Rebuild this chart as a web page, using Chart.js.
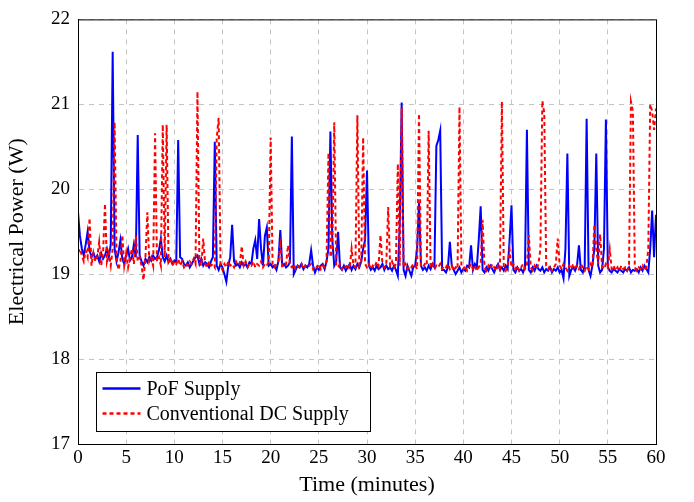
<!DOCTYPE html>
<html>
<head>
<meta charset="utf-8">
<script src="https://cdn.jsdelivr.net/npm/chart.js@4/dist/chart.umd.min.js"></script>
<style>
  html, body { margin: 0; padding: 0; background: #fff; }
  #wrap { width: 694px; height: 502px; }
</style>
</head>
<body>
<div id="wrap"><canvas id="c" width="694" height="502"></canvas></div>
<script>
// sample spacing of both records (minutes)
const STEP = 0.2;

// PoF supply, one value every 0.2 min from 0 to 60
const pofPower = [
  19.73, 19.45, 19.30, 19.22, 19.35, 19.50, 19.28, 19.20, 19.25, 19.18,
  19.22, 19.15, 19.25, 19.18, 19.22, 19.30, 19.20, 19.35, 21.62, 19.30,
  19.15, 19.25, 19.40, 19.18, 19.12, 19.22, 19.30, 19.16, 19.20, 19.35,
  19.20, 20.64, 19.22, 19.15, 19.10, 19.18, 19.14, 19.20, 19.16, 19.22,
  19.18, 19.20, 19.28, 19.42, 19.20, 19.15, 19.22, 19.14, 19.18, 19.12,
  19.16, 19.14, 20.58, 19.20, 19.18, 19.12, 19.10, 19.14, 19.08, 19.12,
  19.16, 19.20, 19.22, 19.12, 19.18, 19.10, 19.14, 19.12, 19.08, 19.15,
  19.20, 20.56, 19.10, 19.05, 19.12, 19.08, 19.00, 18.91, 19.10, 19.20,
  19.58, 19.15, 19.10, 19.12, 19.08, 19.14, 19.10, 19.12, 19.08, 19.14,
  19.12, 19.30, 19.40, 19.18, 19.65, 19.30, 19.10, 19.45, 19.55, 19.10,
  19.12, 19.08, 19.10, 19.05, 19.15, 19.52, 19.10, 19.12, 19.08, 19.10,
  19.14, 20.62, 19.00, 19.05, 19.10, 19.08, 19.12, 19.06, 19.10, 19.08,
  19.12, 19.28, 19.10, 19.02, 19.08, 19.05, 19.10, 19.12, 19.06, 19.15,
  19.30, 20.68, 19.40, 19.10, 19.15, 19.50, 19.08, 19.05, 19.10, 19.04,
  19.08, 19.12, 19.05, 19.10, 19.06, 19.12, 19.08, 19.15, 19.30, 19.40,
  20.22, 19.10, 19.05, 19.08, 19.04, 19.10, 19.06, 19.08, 19.12, 19.05,
  19.10, 19.06, 19.08, 19.04, 19.10, 19.05, 18.98, 19.60, 21.02, 19.05,
  18.98, 19.10, 19.04, 18.98, 19.08, 19.10, 19.30, 19.85, 19.10, 19.05,
  19.08, 19.04, 19.10, 19.06, 19.12, 19.08, 20.51, 20.58, 20.69, 19.05,
  19.05, 19.02, 19.08, 19.38, 19.10, 19.05, 19.00, 19.04, 19.08, 19.02,
  19.06, 19.04, 19.10, 19.08, 19.34, 19.05, 19.12, 19.08, 19.40, 19.80,
  19.05, 19.02, 19.08, 19.04, 19.10, 19.06, 19.02, 19.08, 19.12, 19.05,
  19.08, 19.04, 19.10, 19.06, 19.40, 19.81, 19.05, 19.02, 19.08, 19.04,
  19.06, 19.02, 19.08, 20.70, 19.05, 19.02, 19.08, 19.04, 19.10, 19.06,
  19.04, 19.08, 19.02, 19.06, 19.04, 19.08, 19.02, 19.06, 19.04, 19.08,
  19.02, 19.05, 18.95, 19.30, 20.42, 18.98, 19.05, 19.08, 19.04, 19.10,
  19.34, 19.05, 19.02, 19.10, 20.83, 19.05, 18.98, 19.10, 19.30, 20.42,
  19.10, 19.02, 19.05, 19.30, 20.82, 19.08, 19.04, 19.02, 19.06, 19.04,
  19.02, 19.06, 19.04, 19.02, 19.06, 19.04, 19.08, 19.02, 19.05, 19.04,
  19.06, 19.02, 19.08, 19.04, 19.10, 19.06, 19.02, 19.30, 19.75, 19.20,
  19.70
];

// conventional DC supply, same time base
const dcPower = [
  19.25, 19.30, 19.22, 19.15, 19.28, 19.20, 19.66, 19.10, 19.25, 19.15,
  19.20, 19.38, 19.10, 19.25, 19.83, 19.15, 19.25, 19.10, 19.30, 20.79,
  19.20, 19.05, 19.15, 19.46, 19.10, 19.25, 19.08, 19.20, 19.30, 19.12,
  19.45, 19.15, 19.20, 19.10, 18.93, 19.20, 19.73, 19.15, 19.20, 19.10,
  20.66, 19.15, 19.20, 19.10, 20.76, 19.20, 20.76, 19.15, 19.20, 19.10,
  19.15, 19.12, 19.18, 19.10, 19.15, 19.08, 19.12, 19.10, 19.15, 19.12,
  19.18, 19.12, 21.15, 19.15, 19.10, 19.42, 19.12, 19.08, 19.15, 19.10,
  19.12, 19.08, 20.60, 20.84, 19.10, 19.05, 19.12, 19.08, 19.15, 19.10,
  19.12, 19.08, 19.15, 19.10, 19.12, 19.33, 19.10, 19.15, 19.08, 19.12,
  19.10, 19.15, 19.08, 19.12, 19.10, 19.15, 19.08, 19.12, 19.10, 19.15,
  20.61, 19.10, 19.08, 19.12, 19.15, 19.34, 19.10, 19.08, 19.12, 19.34,
  19.10, 19.08, 19.12, 19.06, 19.10, 19.08, 19.12, 19.06, 19.10, 19.08,
  19.10, 19.12, 19.06, 19.10, 19.08, 19.12, 19.06, 19.10, 19.08, 19.15,
  20.43, 19.20, 19.30, 20.79, 19.10, 19.08, 19.12, 19.06, 19.10, 19.08,
  19.12, 19.06, 19.30, 19.10, 19.08, 20.87, 19.10, 19.15, 20.61, 19.12,
  19.08, 19.12, 19.06, 19.10, 19.08, 19.15, 19.10, 19.46, 19.12, 19.08,
  19.12, 19.79, 19.10, 19.15, 19.08, 19.12, 20.30, 19.10, 20.96, 19.08,
  19.12, 19.06, 19.10, 19.08, 19.12, 19.10, 19.06, 20.89, 19.10, 19.08,
  19.12, 19.10, 20.69, 19.08, 19.12, 19.06, 19.10, 19.08, 19.12, 19.06,
  19.10, 19.08, 19.12, 19.06, 19.10, 19.04, 19.08, 19.06, 20.97, 19.10,
  19.06, 19.10, 19.04, 19.08, 19.12, 19.06, 19.10, 19.04, 19.08, 19.12,
  19.64, 19.08, 19.04, 19.10, 19.06, 19.12, 19.08, 19.04, 19.10, 19.06,
  21.03, 19.08, 19.04, 19.10, 19.29, 19.08, 19.12, 19.06, 19.10, 19.04,
  19.08, 19.12, 19.06, 19.10, 19.46, 19.08, 19.04, 19.10, 19.06, 19.12,
  19.30, 21.04, 20.90, 19.10, 19.06, 19.10, 19.04, 19.08, 19.12, 19.42,
  19.10, 19.06, 19.12, 19.08, 19.04, 19.10, 19.06, 19.12, 19.08, 19.10,
  19.06, 19.12, 19.08, 19.04, 19.10, 19.06, 19.12, 19.08, 19.58, 19.30,
  19.12, 19.47, 19.10, 19.06, 19.12, 19.08, 19.29, 19.06, 19.10, 19.04,
  19.08, 19.04, 19.10, 19.06, 19.08, 19.04, 19.10, 21.03, 20.92, 19.08,
  19.04, 19.08, 19.06, 19.10, 19.04, 19.08, 19.30, 21.00, 20.92, 20.70,
  20.95
];

const seriesLabels = ['PoF Supply', 'Conventional DC Supply'];
const xTicks = [0, 5, 10, 15, 20, 25, 30, 35, 40, 45, 50, 55, 60];
const yTicks = [17, 18, 19, 20, 21, 22];

const FONT = "'Liberation Serif', 'DejaVu Serif', serif";

const toPoints = arr => arr.map((v, i) => ({ x: +(i * STEP).toFixed(1), y: v }));

// black frame round the plot + boxed legend inside it
const framePlugin = {
  id: 'frame',
  afterDraw(chart) {
    const { ctx, chartArea: a } = chart;
    ctx.save();
    ctx.strokeStyle = '#000';
    ctx.lineWidth = 1;
    ctx.setLineDash([]);
    ctx.strokeRect(a.left + 0.5, a.top + 0.5, a.right - a.left, a.bottom - a.top);

    // legend
    const bx = 96.5, by = 372.5, bw = 274, bh = 59;
    ctx.fillStyle = '#fff';
    ctx.fillRect(bx, by, bw, bh);
    ctx.strokeRect(bx, by, bw, bh);
    ctx.font = '20px ' + FONT;
    ctx.textBaseline = 'middle';
    chart.data.datasets.forEach((ds, i) => {
      const cy = by + 16 + i * 25;
      ctx.strokeStyle = ds.borderColor;
      ctx.lineWidth = 2.5;
      ctx.setLineDash(ds.borderDash || []);
      ctx.beginPath();
      ctx.moveTo(bx + 6, cy);
      ctx.lineTo(bx + 44, cy);
      ctx.stroke();
      ctx.setLineDash([]);
      ctx.fillStyle = '#000';
      ctx.fillText(ds.label, bx + 50, cy + 1);
    });
    ctx.restore();
  }
};

new Chart(document.getElementById('c'), {
  type: 'line',
  data: {
    datasets: [
      {
        label: seriesLabels[0],
        data: toPoints(pofPower),
        borderColor: '#0000ff',
        borderWidth: 2,
        pointRadius: 0,
        tension: 0,
        order: 1
      },
      {
        label: seriesLabels[1],
        data: toPoints(dcPower),
        borderColor: '#ff0000',
        borderWidth: 2,
        borderDash: [4, 3],
        pointRadius: 0,
        tension: 0,
        order: 0
      }
    ]
  },
  options: {
    responsive: false,
    animation: false,
    layout: { padding: { top: 16, right: 38, left: 0, bottom: 0 } },
    plugins: { legend: { display: false }, tooltip: { enabled: false } },
    scales: {
      x: {
        type: 'linear',
        min: 0,
        max: 60,
        afterBuildTicks: s => { s.ticks = xTicks.map(v => ({ value: v })); },
        afterFit: s => { s.height = 58; },
        ticks: { color: '#000', font: { family: FONT, size: 19 }, padding: 3, maxRotation: 0 },
        grid: { color: '#c4c4c4', lineWidth: 1, drawTicks: false },
        border: { display: true, color: '#000', dash: [5, 5] },
        title: { display: true, text: 'Time (minutes)', color: '#000', font: { family: FONT, size: 22 }, padding: { top: 0 } }
      },
      y: {
        min: 17,
        max: 22,
        afterBuildTicks: s => { s.ticks = yTicks.map(v => ({ value: v })); },
        afterFit: s => { s.width = 78; },
        ticks: { color: '#000', font: { family: FONT, size: 19 }, padding: 8 },
        grid: { color: '#c4c4c4', lineWidth: 1, drawTicks: false },
        border: { display: true, color: '#000', dash: [5, 5] },
        title: { display: true, text: 'Electrical Power (W)', color: '#000', font: { family: FONT, size: 22 }, padding: { bottom: 2 } }
      }
    }
  },
  plugins: [framePlugin]
});
</script>
</body>
</html>
